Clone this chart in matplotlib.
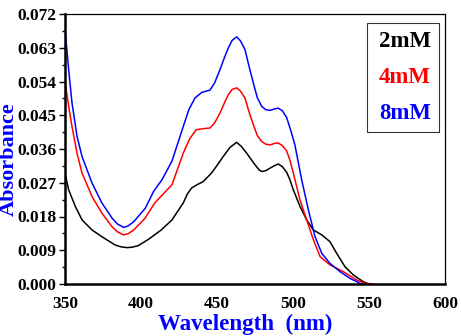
import matplotlib
matplotlib.use("Agg")
import matplotlib.pyplot as plt
import numpy as np
from matplotlib.ticker import MultipleLocator, FormatStrFormatter

# absorbance spectra
wl_2mM = [350, 352.4, 356.8, 361.2, 367.8, 374.3, 383, 387, 390.6, 394, 398, 404.5, 413.3,
          420.4, 427.8, 430.5, 433.3, 437, 440.9, 446.4, 450, 454.1, 458.5, 462.9, 466,
          469.5, 472.5, 475, 478, 480, 482.5, 484.9, 488, 490.3, 493, 495.8, 498, 500.2,
          504.6, 509, 513.4, 518.9, 524.3, 528.7, 534.2, 539.7, 546.3, 550]
abs_2mM = [0.0296, 0.0251, 0.0207, 0.0171, 0.0144, 0.0126, 0.0104, 0.0099, 0.0097, 0.0098,
           0.0102, 0.0118, 0.0144, 0.0171, 0.0216, 0.0240, 0.0256, 0.0265, 0.0273, 0.0296,
           0.0316, 0.0340, 0.0364, 0.0378, 0.0367, 0.0349, 0.0332, 0.0318, 0.0303, 0.0300,
           0.0303, 0.0309, 0.0316, 0.0320, 0.0313, 0.0298, 0.0278, 0.0251, 0.0207, 0.0171,
           0.0144, 0.0131, 0.0113, 0.0082, 0.0046, 0.0024, 0.0006, 0.0000]

wl_4mM = [350, 352.4, 354.6, 357.9, 361.2, 367.8, 374.3, 380.9, 384.5, 388.6, 391.5, 395.2,
          402.8, 409, 420.4, 427.8, 432, 436.2, 440.5, 445.4, 448.5, 452, 455, 457.5, 460,
          463, 465.5, 468.4, 471, 473.9, 476.5, 479.4, 482, 484.9, 488, 490.3, 493, 495.8,
          498, 500.2, 504.6, 509, 513.4, 517.8, 524.3, 533, 541.8, 547.3, 552.6]
abs_4mM = [0.0540, 0.0474, 0.0420, 0.0349, 0.0296, 0.0233, 0.0189, 0.0153, 0.0139, 0.0131,
           0.0134, 0.0144, 0.0176, 0.0216, 0.0265, 0.0349, 0.0387, 0.0411, 0.0414, 0.0416,
           0.0430, 0.0456, 0.0484, 0.0505, 0.0519, 0.0523, 0.0514, 0.0496, 0.0460, 0.0425,
           0.0396, 0.0380, 0.0373, 0.0371, 0.0375, 0.0376, 0.0369, 0.0355, 0.0330, 0.0296,
           0.0224, 0.0171, 0.0118, 0.0073, 0.0051, 0.0033, 0.0011, 0.0002, 0.0000]

wl_8mM = [350, 352.4, 354.6, 357.9, 361.2, 367.8, 374.3, 380.9, 384.5, 388.6, 391.5, 395.2,
          402.8, 408.3, 413.8, 420.4, 427.8, 431.5, 435.5, 440, 445.4, 448.5, 452, 455,
          457.5, 460, 463, 465.5, 468.4, 471, 473.9, 476.5, 479.4, 482, 484.9, 488, 490.3,
          493, 495.8, 498.5, 501.3, 505.7, 510.1, 514.5, 518.9, 524.3, 530.9, 537.5, 544,
          546]
abs_8mM = [0.0679, 0.0572, 0.0483, 0.0394, 0.0340, 0.0269, 0.0216, 0.0176, 0.0160, 0.0151,
           0.0155, 0.0166, 0.0202, 0.0247, 0.0278, 0.0328, 0.0420, 0.0465, 0.0496, 0.0511,
           0.0517, 0.0537, 0.0572, 0.0605, 0.0630, 0.0650, 0.0659, 0.0648, 0.0625, 0.0582,
           0.0536, 0.0497, 0.0474, 0.0465, 0.0463, 0.0467, 0.0469, 0.0462, 0.0444, 0.0410,
           0.0370, 0.0278, 0.0198, 0.0126, 0.0082, 0.0055, 0.0033, 0.0015, 0.0002, 0.0000]

labels = ["2mM", "4mM", "8mM"]
colors = ["black", "#ff0000", "#0000ff"]

plt.rcParams['font.family'] = ['Liberation Serif', 'DejaVu Serif']

fig = plt.figure(figsize=(4.61, 3.36), dpi=100)
ax = fig.add_axes([65/461, 1-284/336, 380/461, 270/336])

for wl, a, lab, c in zip([wl_2mM, wl_4mM, wl_8mM], [abs_2mM, abs_4mM, abs_8mM], labels, colors):
    ax.plot(wl, a, color=c, lw=1.1, label=lab, solid_joinstyle='round')

ax.set_xlim(350, 600)
ax.set_ylim(0, 0.072)
ax.set_xticks(np.arange(350, 601, 50))
ax.yaxis.set_major_locator(MultipleLocator(0.009))
ax.yaxis.set_minor_locator(MultipleLocator(0.0045))
ax.yaxis.set_major_formatter(FormatStrFormatter('%.3f'))
ax.tick_params(axis='x', length=0, pad=9, labelsize=12.5)
ax.tick_params(axis='y', which='major', direction='out', length=4, width=1, labelsize=12.5, pad=2)
ax.tick_params(axis='y', which='minor', direction='out', length=2.5, width=1)
for t in ax.get_xticklabels() + ax.get_yticklabels():
    t.set_fontweight('bold')

ax.spines['left'].set_linewidth(1.8)
ax.spines['bottom'].set_linewidth(1.8)
ax.spines['top'].set_linewidth(0.9)
ax.spines['right'].set_linewidth(0.9)

ax.set_xlabel("Wavelength  (nm)", color="#0000ff", fontsize=16.5, fontweight='bold')
ax.set_ylabel("Absorbance", color="#0000ff", fontsize=16, fontweight='bold')
ax.xaxis.set_label_coords(0.474, -0.112)
ax.yaxis.set_label_coords(-0.122, 0.461)

leg = ax.legend(loc='upper right', bbox_to_anchor=(0.984, 0.967), handlelength=0.15,
                handletextpad=0, markerfirst=True, labelcolor='linecolor', fancybox=False,
                edgecolor='black', prop={'weight': 'bold', 'size': 16.5},
                borderpad=0.35, labelspacing=0.65, borderaxespad=0)
for h in leg.legend_handles:
    h.set_visible(False)
leg.get_frame().set_linewidth(0.8)

fig.savefig("out.png", dpi=100)
